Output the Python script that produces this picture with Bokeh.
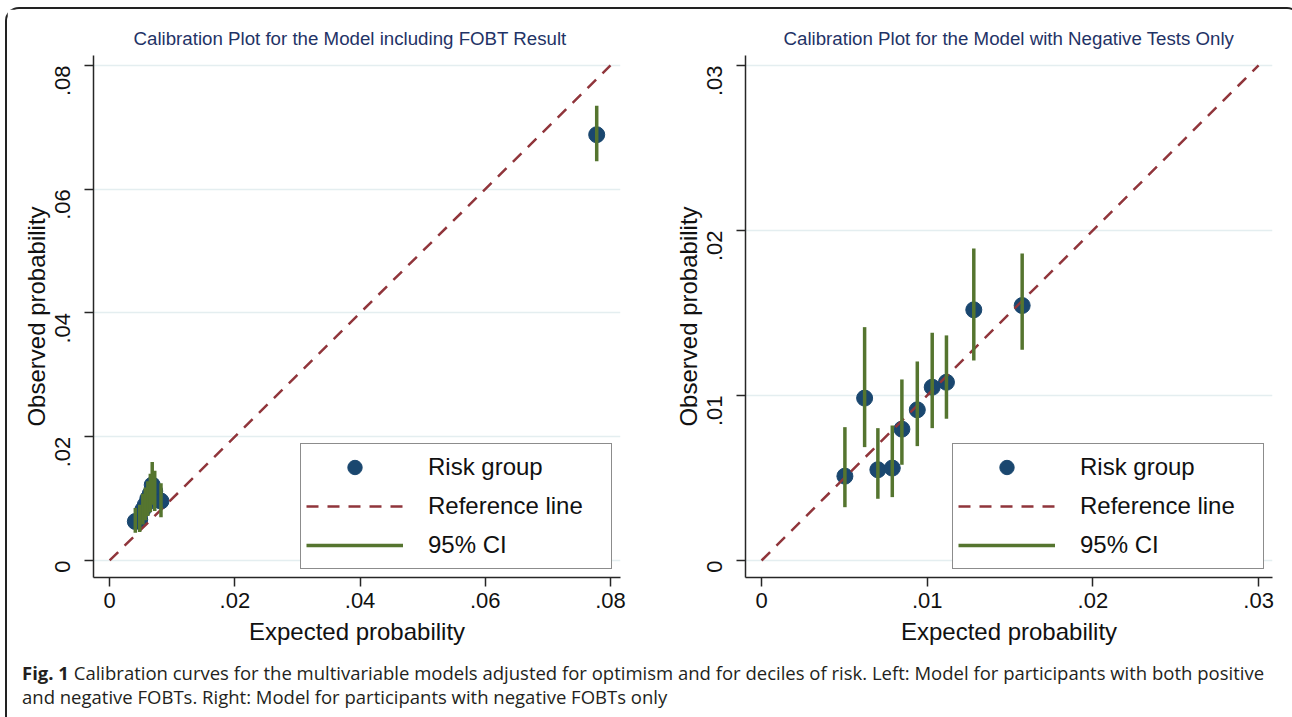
import math
from bokeh.plotting import figure
from bokeh.models import Range1d, FixedTicker, Legend, LegendItem, Div
from bokeh.layouts import row, column
from bokeh.embed import file_html
from bokeh.resources import INLINE

# ---------------- data ----------------
left_title = "Calibration Plot for the Model including FOBT Result"
right_title = "Calibration Plot for the Model with Negative Tests Only"

left_expected = [0.0041, 0.0048, 0.0053, 0.0057, 0.0061, 0.0065, 0.0068, 0.0072, 0.0082, 0.0778]
left_observed = [0.0063, 0.0066, 0.0082, 0.0090, 0.0100, 0.0108, 0.0122, 0.0112, 0.0096, 0.0688]
left_ci_low = [0.0045, 0.0046, 0.0058, 0.0065, 0.0072, 0.0078, 0.0090, 0.0080, 0.0070, 0.0645]
left_ci_high = [0.0085, 0.0090, 0.0108, 0.0118, 0.0128, 0.0140, 0.0159, 0.0145, 0.0125, 0.0735]

right_expected = [0.00503, 0.00622, 0.00702, 0.00789, 0.00847, 0.0094, 0.0103, 0.01116, 0.01281, 0.01573]
right_observed = [0.00511, 0.00984, 0.0055, 0.0056, 0.00796, 0.00913, 0.0105, 0.0108, 0.01519, 0.01545]
right_ci_low = [0.00323, 0.00687, 0.00374, 0.00384, 0.0058, 0.00693, 0.00802, 0.00859, 0.01212, 0.01277]
right_ci_high = [0.00808, 0.01414, 0.00802, 0.00818, 0.01097, 0.01206, 0.0138, 0.01364, 0.0189, 0.0186]

left_ref = [0, 0.08]
right_ref = [0, 0.03]

left_ticks = [0, 0.02, 0.04, 0.06, 0.08]
left_tick_labels = ["0", ".02", ".04", ".06", ".08"]
right_ticks = [0, 0.01, 0.02, 0.03]
right_tick_labels = ["0", ".01", ".02", ".03"]

legend_labels = ["Risk group", "Reference line", "95% CI"]
x_label = "Expected probability"
y_label = "Observed probability"

caption_bold = "Fig. 1"
caption_line1 = ("Calibration curves for the multivariable models adjusted for optimism and for deciles of risk. "
                 "Left: Model for participants with both positive")
caption_line2 = "and negative FOBTs. Right: Model for participants with negative FOBTs only"

NAVY = "#1a476f"
MAROON = "#90353b"
GREEN = "#55752f"
FONT = "Liberation Sans"


def make_panel(title, ex, ob, lo, hi, ref, ticks, labels, xr, yr, width, mbl, mbr, title_offset):
    p = figure(width=width, height=646, x_range=Range1d(*xr), y_range=Range1d(*yr),
               output_backend="svg", toolbar_location=None,
               min_border_left=mbl, min_border_right=mbr, min_border_top=46, min_border_bottom=78)
    p.outline_line_color = None
    p.background_fill_color = "white"
    p.border_fill_color = "white"

    p.title.text = title
    p.title.align = "left"
    p.title.offset = title_offset
    p.title.standoff = 14
    p.title.text_font = FONT
    p.title.text_font_size = "18.7px"
    p.title.text_font_style = "normal"
    p.title.text_color = "#1f3366"

    overrides = dict(zip(ticks, labels))
    for ax in (p.xaxis[0], p.yaxis[0]):
        ax.ticker = FixedTicker(ticks=ticks)
        ax.major_label_overrides = overrides
        ax.axis_line_color = "#262626"
        ax.axis_line_width = 1.5
        ax.major_tick_line_color = "#262626"
        ax.major_tick_line_width = 1.5
        ax.major_tick_out = 9
        ax.major_tick_in = 0
        ax.minor_tick_out = 0
        ax.minor_tick_in = 0
        ax.major_label_text_font = FONT
        ax.major_label_text_font_size = "22px"
        ax.major_label_text_color = "#111111"
        ax.axis_label_text_font = FONT
        ax.axis_label_text_font_size = "24px"
        ax.axis_label_text_font_style = "normal"
        ax.axis_label_text_color = "#111111"
    p.xaxis.axis_label = x_label
    p.yaxis.axis_label = y_label
    p.xaxis.major_label_standoff = 6
    p.xaxis.axis_label_standoff = 7
    p.yaxis.major_label_standoff = 22
    p.yaxis.axis_label_standoff = -5
    p.yaxis.major_label_orientation = math.pi / 2

    p.xgrid.visible = False
    p.ygrid.ticker = FixedTicker(ticks=ticks)
    p.ygrid.grid_line_color = "#e4eef0"
    p.ygrid.grid_line_width = 1.5

    sc = p.scatter(ex, ob, size=16, fill_color=NAVY, line_color=NAVY)
    rl = p.line(ref, ref, line_color=MAROON, line_width=2.5, line_dash="12 9")
    ci = p.segment(ex, lo, ex, hi, line_color=GREEN, line_width=3.5)

    legend = Legend(items=[LegendItem(label=legend_labels[0], renderers=[sc]),
                           LegendItem(label=legend_labels[1], renderers=[rl]),
                           LegendItem(label=legend_labels[2], renderers=[ci])],
                    location=(207, 8))
    legend.border_line_color = "#1a1a1a"
    legend.border_line_width = 1.5
    legend.background_fill_color = "white"
    legend.background_fill_alpha = 1
    legend.padding = 5
    legend.spacing = 3
    legend.margin = 0
    legend.glyph_width = 97
    legend.glyph_height = 36
    legend.label_height = 36
    legend.label_width = 178
    legend.label_standoff = 25
    legend.label_text_font = FONT
    legend.label_text_font_size = "24px"
    legend.label_text_color = "#111111"
    p.add_layout(legend)
    return p


p1 = make_panel(left_title, left_expected, left_observed, left_ci_low, left_ci_high, left_ref,
                left_ticks, left_tick_labels, (-0.00258, 0.0816), (-0.00275, 0.0816),
                633, 86, 20, 40)
p2 = make_panel(right_title, right_expected, right_observed, right_ci_low, right_ci_high, right_ref,
                right_ticks, right_tick_labels, (-0.00097, 0.03084), (-0.00103, 0.0306),
                649, 105, 17, 38)

caption = Div(text=f"<b>{caption_bold}</b> {caption_line1}<br>{caption_line2}", width=1282, height=62,
              styles={"font-family": "Open Sans", "font-size": "18.5px", "line-height": "24px",
                      "padding-left": "10px", "padding-top": "1px", "color": "#231f20",
                      "box-sizing": "border-box", "white-space": "nowrap"})

layout = column(row(p1, p2), caption,
                styles={"margin-left": "5px", "margin-top": "7px",
                        "border-top": "2px solid #222", "border-left": "2px solid #222",
                        "border-right": "2px solid #222",
                        "border-top-left-radius": "14px", "border-top-right-radius": "14px"})

open("out.html", "w").write(file_html(layout, INLINE))
